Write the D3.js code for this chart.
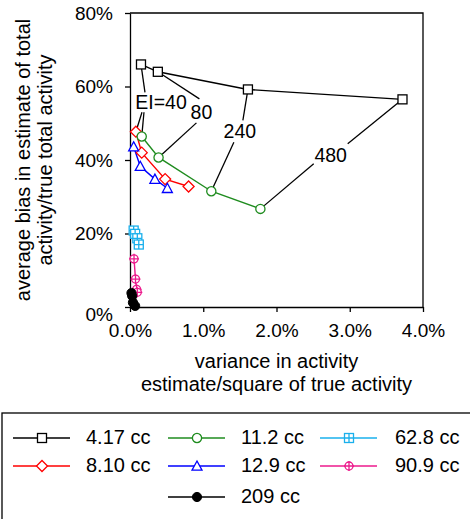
<!DOCTYPE html>
<html>
<head>
<meta charset="utf-8">
<script src="https://cdn.jsdelivr.net/npm/d3@7"></script>
<style>
  body{margin:0;background:#fff}
  text{font-family:"Liberation Sans",Arial,sans-serif;fill:#000}
</style>
</head>
<body>
<script>
// EI levels, one point per level in every series
const eiLevels=['EI=40','80','240','480']

const sizes=['4.17 cc','8.10 cc','11.2 cc','12.9 cc','62.8 cc','90.9 cc','209 cc']

// variance (%) and bias (%) per volume
const var417=[0.15,0.38,1.61,3.72]
const bias417=[66.0,64.0,59.2,56.5]
const var810=[0.08,0.16,0.48,0.80]
const bias810=[47.7,42.0,34.8,32.8]
const var112=[0.16,0.39,1.11,1.78]
const bias112=[46.4,40.7,31.5,26.7]
const var129=[0.05,0.14,0.34,0.51]
const bias129=[43.6,38.3,34.8,32.3]
const var628=[0.05,0.07,0.10,0.12]
const bias628=[20.8,19.9,18.7,17.0]
const var909=[0.055,0.075,0.09,0.10]
const bias909=[13.1,7.6,4.8,4.0]
const var209=[0.02,0.03,0.04,0.07]
const bias209=[3.8,3.0,1.2,0.3]

const xTicks=[0,1,2,3,4]
const yTicks=[0,20,40,60,80]

// which series each EI label points to
const eiLinks=[['4.17 cc','8.10 cc','11.2 cc'],['4.17 cc','11.2 cc'],['4.17 cc','11.2 cc'],['4.17 cc','11.2 cc']]

// ---- layout / style ----
const styles={
  '4.17 cc':{color:'#000',marker:'square'},
  '8.10 cc':{color:'#ff0000',marker:'diamond'},
  '11.2 cc':{color:'#1f8c1f',marker:'circle'},
  '12.9 cc':{color:'#0000ff',marker:'triangle'},
  '62.8 cc':{color:'#1ab0ec',marker:'squarePlus'},
  '90.9 cc':{color:'#ec1a8c',marker:'circlePlus'},
  '209 cc':{color:'#000',marker:'dot'}
}
// label centre in data units, leader anchors in px offsets from the centre
const labelPos=[[0.423,55.7],[0.975,53.1],[1.50,47.8],[2.74,41.4]]
const anchors=[
  {'4.17 cc':[-16,-10],'8.10 cc':[-19,10],'11.2 cc':[-17,10]},
  {'4.17 cc':[-2,-13],'11.2 cc':[-5,11]},
  {'4.17 cc':[3,-11],'11.2 cc':[-6,11]},
  {'4.17 cc':[17,-11],'11.2 cc':[-17,9]}
]
const legendSlots={
  '4.17 cc':[0,0],'11.2 cc':[1,0],'62.8 cc':[2,0],
  '8.10 cc':[0,1],'12.9 cc':[1,1],'90.9 cc':[2,1],
  '209 cc':[1,2]
}

const series=[
  [var417,bias417],[var810,bias810],[var112,bias112],[var129,bias129],
  [var628,bias628],[var909,bias909],[var209,bias209]
].map((s,i)=>({
  name:sizes[i],
  points:s[0].map((v,j)=>({x:v,y:s[1][j]}))
}))
const byName={}
series.forEach(s=>{byName[s.name]=s})

const svg=d3.select('body').append('svg').attr('width',470).attr('height',519)

const x=d3.scaleLinear().domain([0,4]).range([130,423])
const y=d3.scaleLinear().domain([0,80]).range([307,13])

function drawMarker(g,type,color){
  const sw=1.3
  if(type==='square'){
    g.append('rect').attr('x',-4.5).attr('y',-4.5).attr('width',9).attr('height',9)
      .attr('fill','#fff').attr('stroke',color).attr('stroke-width',sw)
  }else if(type==='diamond'){
    g.append('path').attr('d','M0,-5.5L5.5,0L0,5.5L-5.5,0Z')
      .attr('fill','#fff').attr('stroke',color).attr('stroke-width',sw)
  }else if(type==='triangle'){
    g.append('path').attr('d','M0,-5L5,4.2H-5Z')
      .attr('fill','#fff').attr('stroke',color).attr('stroke-width',sw)
  }else if(type==='circle'){
    g.append('circle').attr('r',4.6)
      .attr('fill','#fff').attr('stroke',color).attr('stroke-width',sw)
  }else if(type==='squarePlus'){
    g.append('rect').attr('x',-4.5).attr('y',-4.5).attr('width',9).attr('height',9)
      .attr('fill','#fff').attr('stroke',color).attr('stroke-width',sw)
    g.append('path').attr('d','M-4.5,0H4.5M0,-4.5V4.5')
      .attr('stroke',color).attr('stroke-width',sw)
  }else if(type==='circlePlus'){
    g.append('circle').attr('r',4)
      .attr('fill','#fff').attr('stroke',color).attr('stroke-width',sw)
    g.append('path').attr('d','M-5,0H5M0,-5V5')
      .attr('stroke',color).attr('stroke-width',sw)
  }else{
    g.append('circle').attr('r',4.6).attr('fill',color).attr('stroke',color)
  }
}

// axes
const yAxis=svg.append('g').attr('transform','translate(130,0)')
  .call(d3.axisLeft(y).tickValues(yTicks).tickSize(5).tickSizeOuter(0).tickPadding(12)
    .tickFormat(d=>d+'%'))
const xAxis=svg.append('g').attr('transform','translate(0,307)')
  .call(d3.axisBottom(x).tickValues(xTicks).tickSize(5).tickSizeOuter(0).tickPadding(12)
    .tickFormat(d=>d.toFixed(1)+'%'))
;[yAxis,xAxis].forEach(a=>{
  a.selectAll('path,line').attr('stroke','#000').attr('stroke-width',1.3)
  a.selectAll('text').attr('font-size',19).attr('font-family','"Liberation Sans",Arial,sans-serif')
})
yAxis.selectAll('.tick').filter(d=>d===0).select('text').attr('y',7)

// frame top and right
svg.append('path')
  .attr('d',`M${x(0)},${y(80)}H${x(4)}V${y(0)}`)
  .attr('fill','none').attr('stroke','#000').attr('stroke-width',1.3)

// axis titles
const xt=svg.append('text').attr('text-anchor','middle').attr('font-size',20)
xt.append('tspan').attr('x',(x(0)+x(4))/2).attr('y',368).text('variance in activity')
xt.append('tspan').attr('x',(x(0)+x(4))/2).attr('y',391).text('estimate/square of true activity')

const yt=svg.append('text').attr('text-anchor','middle').attr('font-size',20)
  .attr('transform',`translate(0,${(y(0)+y(80))/2}) rotate(-90)`)
yt.append('tspan').attr('x',0).attr('y',30).text('average bias in estimate of total')
yt.append('tspan').attr('x',0).attr('y',52).text('activity/true total activity')

// EI leaders and labels
const annot=svg.append('g')
eiLevels.forEach((lab,i)=>{
  const cx=x(labelPos[i][0]),cy=y(labelPos[i][1])
  eiLinks[i].forEach(name=>{
    const p=byName[name].points[i]
    const a=anchors[i][name]
    annot.append('line')
      .attr('x1',cx+a[0]).attr('y1',cy+a[1])
      .attr('x2',x(p.x)).attr('y2',y(p.y))
      .attr('stroke','#000').attr('stroke-width',1.3)
  })
  annot.append('text').attr('x',cx).attr('y',cy).attr('dy','0.36em')
    .attr('text-anchor','middle').attr('font-size',19.5).text(lab)
})

// series lines and markers
const line=d3.line().x(d=>x(d.x)).y(d=>y(d.y))
series.forEach(s=>{
  const st=styles[s.name]
  svg.append('path').datum(s.points)
    .attr('fill','none').attr('stroke',st.color).attr('stroke-width',1.4)
    .attr('d',line)
})
series.forEach(s=>{
  const st=styles[s.name]
  s.points.forEach(p=>{
    const g=svg.append('g').attr('transform',`translate(${x(p.x)},${y(p.y)})`)
    drawMarker(g,st.marker,st.color)
  })
})

// legend
const leg=svg.append('g')
leg.append('rect').attr('x',2).attr('y',413).attr('width',480).attr('height',130)
  .attr('fill','none').attr('stroke','#000').attr('stroke-width',1.3)
const colX=[13,168,320]
const rowY=[438,466,497]
sizes.forEach(name=>{
  const st=styles[name]
  const [c,r]=legendSlots[name]
  const x0=colX[c],yy=rowY[r]
  leg.append('line').attr('x1',x0).attr('x2',x0+57).attr('y1',yy).attr('y2',yy)
    .attr('stroke',st.color).attr('stroke-width',1.4)
  drawMarker(leg.append('g').attr('transform',`translate(${x0+29},${yy})`),st.marker,st.color)
  leg.append('text').attr('x',x0+73+(c===2?2:0)).attr('y',yy).attr('dy','0.3em')
    .attr('font-size',20).text(name)
})
</script>
</body>
</html>
